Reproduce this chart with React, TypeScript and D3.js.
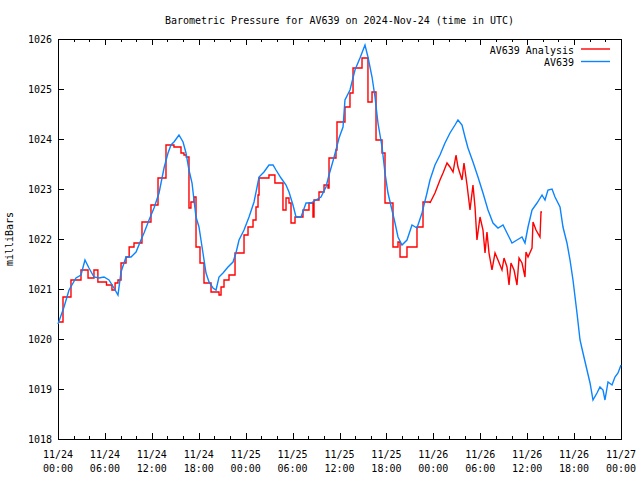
import React, { useEffect, useRef } from 'react';
import * as d3 from 'd3';

const W = 640;
const H = 480;
const margin = { left: 58, right: 19, top: 39, bottom: 41 };

const START = new Date(Date.UTC(2024, 10, 24, 0, 0));
const END = new Date(Date.UTC(2024, 10, 27, 0, 0));

const titleText = 'Barometric Pressure for AV639 on 2024-Nov-24 (time in UTC)';
const yLabel = 'milliBars';
const seriesNames = ['AV639 Analysis', 'AV639'];
const seriesColors = ['#ff0000', '#0a84ff'];
const yTicks = [1018, 1019, 1020, 1021, 1022, 1023, 1024, 1025, 1026];

// [hours after 11/24 00:00 UTC, millibars]
const av639: [number, number][] = [
  [0.0, 1020.3], [0.77, 1020.64], [1.41, 1020.98], [2.3, 1021.22], [2.94, 1021.28],
  [3.45, 1021.58], [3.96, 1021.42], [4.6, 1021.24], [5.24, 1021.22], [5.88, 1021.24],
  [6.52, 1021.18], [7.16, 1021.02], [7.67, 1020.88], [8.06, 1021.34], [8.7, 1021.64],
  [9.34, 1021.64], [9.98, 1021.74], [10.61, 1021.98], [11.0, 1022.12], [11.64, 1022.38],
  [12.28, 1022.62], [12.92, 1022.92], [13.56, 1023.42], [14.07, 1023.72], [14.45, 1023.88],
  [14.83, 1023.94], [15.47, 1024.08], [15.99, 1023.94], [16.37, 1023.72], [16.75, 1023.38],
  [17.14, 1023.12], [17.39, 1022.78], [17.65, 1022.44], [18.03, 1022.24], [18.54, 1021.72],
  [18.93, 1021.32], [19.31, 1021.14], [19.82, 1021.02], [20.21, 1020.98], [20.59, 1021.24],
  [21.1, 1021.32], [21.74, 1021.44], [22.38, 1021.54], [22.76, 1021.72], [23.15, 1021.98],
  [23.79, 1022.18], [24.43, 1022.44], [25.07, 1022.74], [25.71, 1023.24], [26.34, 1023.34],
  [26.98, 1023.48], [27.5, 1023.48], [27.88, 1023.38], [28.52, 1023.22], [29.16, 1023.08],
  [29.54, 1022.94], [30.05, 1022.68], [30.44, 1022.44], [31.08, 1022.44], [31.72, 1022.72],
  [32.36, 1022.72], [32.99, 1022.78], [33.63, 1022.84], [34.27, 1023.04], [34.66, 1023.28],
  [35.17, 1023.56], [35.55, 1023.78], [35.94, 1024.02], [36.45, 1024.24], [36.7, 1024.78],
  [37.34, 1024.98], [37.98, 1025.38], [38.62, 1025.62], [39.26, 1025.88], [39.64, 1025.64],
  [40.16, 1025.24], [40.54, 1024.84], [40.92, 1024.32], [41.44, 1023.84], [41.82, 1023.32],
  [42.2, 1022.92], [42.71, 1022.58], [43.1, 1022.32], [43.48, 1022.04], [43.99, 1021.88],
  [44.63, 1021.98], [45.27, 1022.28], [45.91, 1022.22], [46.55, 1022.52], [47.19, 1022.92],
  [47.57, 1023.18], [48.21, 1023.48], [48.85, 1023.68], [49.49, 1023.92], [50.13, 1024.12],
  [50.77, 1024.28], [51.15, 1024.38], [51.67, 1024.28], [52.05, 1024.04], [52.43, 1023.82],
  [53.07, 1023.54], [53.71, 1023.24], [54.35, 1022.92], [54.99, 1022.58], [55.63, 1022.32],
  [56.27, 1022.22], [56.91, 1022.28], [57.55, 1022.08], [58.06, 1021.92], [58.7, 1021.98],
  [59.34, 1022.04], [59.72, 1021.92], [60.11, 1022.24], [60.62, 1022.58], [61.26, 1022.72],
  [61.9, 1022.88], [62.28, 1022.78], [62.66, 1022.98], [63.18, 1023.0], [63.56, 1022.84],
  [64.2, 1022.64], [64.58, 1022.24], [65.09, 1021.92], [65.48, 1021.58], [65.86, 1021.18],
  [66.37, 1020.52], [66.76, 1019.98], [67.14, 1019.72], [67.65, 1019.38], [68.04, 1019.12],
  [68.42, 1018.78], [68.93, 1018.92], [69.31, 1019.04], [69.7, 1018.98], [69.95, 1018.78],
  [70.34, 1019.14], [70.85, 1019.08], [71.23, 1019.24], [71.62, 1019.32], [72.0, 1019.48],
];

// analysis, stepped part
const analysisSteps: [number, number][] = [
  [0.0, 1020.34], [0.64, 1020.84], [1.66, 1021.18], [2.94, 1021.38], [3.84, 1021.22],
  [4.6, 1021.38], [5.1, 1021.14], [6.2, 1021.08], [6.9, 1020.98], [7.3, 1021.12],
  [7.67, 1021.18], [8.06, 1021.52], [8.7, 1021.64], [9.1, 1021.84], [9.72, 1021.92],
  [10.74, 1022.34], [11.89, 1022.68], [12.79, 1023.22], [13.81, 1023.88], [14.83, 1023.84],
  [15.73, 1023.72], [16.11, 1023.68], [16.4, 1023.64], [16.75, 1022.62], [17.0, 1022.74],
  [17.39, 1022.84], [17.65, 1021.84], [18.16, 1021.52], [18.67, 1021.12], [19.57, 1020.94],
  [20.59, 1020.88], [20.85, 1021.04], [21.23, 1021.18], [21.87, 1021.28], [22.64, 1021.72],
  [23.79, 1022.08], [24.3, 1022.24], [24.94, 1022.38], [25.32, 1022.64], [25.58, 1022.88],
  [25.71, 1023.22], [26.98, 1023.28], [27.74, 1023.12], [28.77, 1022.58], [29.16, 1022.82],
  [29.54, 1022.72], [29.8, 1022.32], [30.31, 1022.44], [31.33, 1022.58], [32.1, 1022.72],
  [32.61, 1022.44], [32.74, 1022.78], [33.38, 1022.94], [34.02, 1023.08], [34.53, 1023.02],
  [34.66, 1023.62], [35.55, 1023.78], [35.68, 1024.34], [36.7, 1024.64], [37.34, 1024.92],
  [37.73, 1025.42], [38.88, 1025.62], [39.64, 1024.74], [40.16, 1024.94], [40.67, 1023.98],
  [41.44, 1023.72], [41.82, 1022.72], [42.84, 1021.84], [43.48, 1021.94], [43.74, 1021.64],
  [44.63, 1021.84], [45.91, 1022.24], [46.68, 1022.74], [47.57, 1022.72],
];

// analysis, later part drawn point to point
const analysisLate: [number, number][] = [
  [47.57, 1022.72], [48.21, 1022.92], [48.85, 1023.18], [49.24, 1023.32], [49.75, 1023.52],
  [50.13, 1023.44], [50.52, 1023.34], [50.9, 1023.68], [51.15, 1023.44], [51.67, 1023.18],
  [51.92, 1023.52], [52.31, 1023.08], [52.69, 1022.58], [53.07, 1023.08], [53.33, 1022.64],
  [53.58, 1021.98], [53.97, 1022.44], [54.35, 1022.18], [54.61, 1021.72], [54.86, 1022.14],
  [55.12, 1021.72], [55.5, 1021.38], [55.89, 1021.72], [56.27, 1021.58], [56.78, 1021.38],
  [57.04, 1021.62], [57.42, 1021.44], [57.68, 1021.08], [57.93, 1021.52], [58.32, 1021.38],
  [58.7, 1021.08], [58.96, 1021.62], [59.34, 1021.52], [59.72, 1021.24], [59.85, 1021.74],
  [60.11, 1021.64], [60.62, 1021.82], [60.75, 1022.34], [61.13, 1022.18], [61.64, 1022.04],
  [61.77, 1022.54], [61.9, 1022.54],
];

const toDate = (h: number) => new Date(START.getTime() + h * 3600 * 1000);

const App: React.FC = () => {
  const ref = useRef<SVGSVGElement>(null);

  useEffect(() => {
    if (!ref.current) return;
    const svg = d3.select(ref.current);
    svg.selectAll('*').remove();

    const font = '"DejaVu Sans Mono", monospace';
    const x = d3.scaleUtc().domain([START, END]).range([margin.left, W - margin.right]);
    const y = d3.scaleLinear().domain([1018, 1026]).range([H - margin.bottom, margin.top]);
    const [x0, x1] = x.range();
    const [yb, yt] = y.range();

    // title
    svg.append('text')
      .attr('x', (x0 + x1) / 2).attr('y', 24)
      .attr('text-anchor', 'middle')
      .attr('font-family', font).attr('font-size', 10)
      .text(titleText);

    // y label
    svg.append('text')
      .attr('transform', `translate(13,${(yb + yt) / 2}) rotate(-90)`)
      .attr('text-anchor', 'middle')
      .attr('font-family', font).attr('font-size', 10)
      .text(yLabel);

    const axes = svg.append('g')
      .attr('stroke', '#000').attr('stroke-width', 1)
      .attr('shape-rendering', 'crispEdges');

    // y ticks both sides
    yTicks.forEach(v => {
      const py = Math.round(y(v)) + 0.5;
      axes.append('line').attr('x1', x0).attr('x2', x0 + 6).attr('y1', py).attr('y2', py);
      axes.append('line').attr('x1', x1 - 6).attr('x2', x1).attr('y1', py).attr('y2', py);
      svg.append('text')
        .attr('x', x0 - 6).attr('y', py).attr('dy', '0.35em')
        .attr('text-anchor', 'end')
        .attr('font-family', font).attr('font-size', 10)
        .text(v);
    });

    // x ticks, minor every 2h, major every 6h
    const minor = d3.utcHour.every(2)!.range(START, new Date(END.getTime() + 1));
    minor.forEach(d => {
      const major = d.getUTCHours() % 6 === 0;
      const len = major ? 6 : 3;
      const px = Math.round(x(d)) + 0.5;
      axes.append('line').attr('x1', px).attr('x2', px).attr('y1', yb).attr('y2', yb - len);
      axes.append('line').attr('x1', px).attr('x2', px).attr('y1', yt).attr('y2', yt + len);
    });

    const fmtDay = d3.utcFormat('%m/%d');
    const fmtTime = d3.utcFormat('%H:%M');
    d3.utcHour.every(6)!.range(START, new Date(END.getTime() + 1)).forEach(d => {
      const t = svg.append('text')
        .attr('text-anchor', 'middle')
        .attr('font-family', font).attr('font-size', 10);
      t.append('tspan').attr('x', x(d)).attr('y', 458).text(fmtDay(d));
      t.append('tspan').attr('x', x(d)).attr('y', 472).text(fmtTime(d));
    });

    // frame
    axes.append('rect')
      .attr('x', x0 + 0.5).attr('y', yt + 0.5)
      .attr('width', x1 - x0).attr('height', yb - yt)
      .attr('fill', 'none');

    const stepLine = d3.line<[number, number]>()
      .x(d => x(toDate(d[0])))
      .y(d => y(d[1]))
      .curve(d3.curveStepAfter);
    const plainLine = d3.line<[number, number]>()
      .x(d => x(toDate(d[0])))
      .y(d => y(d[1]));

    svg.append('path').datum(analysisSteps)
      .attr('d', stepLine).attr('fill', 'none')
      .attr('stroke', seriesColors[0]).attr('stroke-width', 1.4);
    svg.append('path').datum(analysisLate)
      .attr('d', plainLine).attr('fill', 'none')
      .attr('stroke', seriesColors[0]).attr('stroke-width', 1.4);
    svg.append('path').datum(av639)
      .attr('d', plainLine).attr('fill', 'none')
      .attr('stroke', seriesColors[1]).attr('stroke-width', 1.4);

    // legend
    seriesNames.forEach((name, i) => {
      const ly = 50 + i * 12.5;
      svg.append('text')
        .attr('x', 574).attr('y', ly).attr('dy', '0.35em')
        .attr('text-anchor', 'end')
        .attr('font-family', font).attr('font-size', 10)
        .text(name);
      svg.append('line')
        .attr('x1', 581).attr('x2', 610).attr('y1', ly - 1).attr('y2', ly - 1)
        .attr('stroke', seriesColors[i]).attr('stroke-width', 1.4);
    });
  }, []);

  return (
    <svg ref={ref} width={W} height={H}
      style={{ position: 'absolute', left: 0, top: 0, background: '#fff' }} />
  );
};

export default App;
